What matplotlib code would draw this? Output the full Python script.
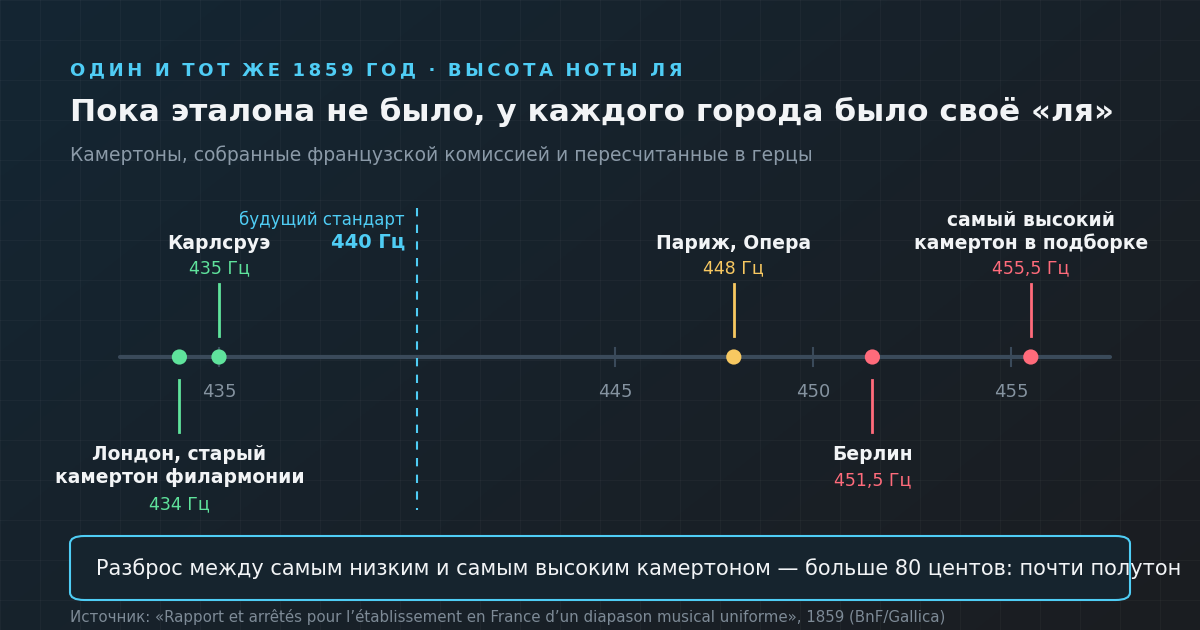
import matplotlib
matplotlib.use("Agg")
import matplotlib.pyplot as plt
import numpy as np
from matplotlib.patches import FancyBboxPatch

plt.rcParams['font.family'] = ['DejaVu Sans']

cities = ["Лондон, старый\nкамертон филармонии", "Карлсруэ", "Париж, Опера", "Берлин",
          "самый высокий\nкамертон в подборке"]
freqs = [434, 435, 448, 451.5, 455.5]
freq_labels = ["434 Гц", "435 Гц", "448 Гц", "451,5 Гц", "455,5 Гц"]
above = [False, True, True, False, True]
colors = ["#5fe39c", "#5fe39c", "#f7c861", "#ff6b7b", "#ff6b7b"]
ticks = [435, 445, 450, 455]
standard = 440

fig = plt.figure(figsize=(12, 6.3), dpi=100)
bg = fig.add_axes([0, 0, 1, 1])
grad = np.linspace(0, 1, 256)
X, Y = np.meshgrid(grad, grad)
c1 = np.array([0x14, 0x26, 0x33]) / 255
c2 = np.array([0x1b, 0x1d, 0x21]) / 255
t = np.clip((X * 0.6 + Y * 0.4), 0, 1)[..., None]
img = c1 * (1 - t) + c2 * t
bg.imshow(img, extent=[0, 1200, 630, 0], aspect='auto')
for gx in range(0, 1200, 40):
    bg.axvline(gx, color="#ffffff", alpha=0.03, lw=0.8)
for gy in range(0, 630, 40):
    bg.axhline(gy, color="#ffffff", alpha=0.03, lw=0.8)
bg.set_xlim(0, 1200); bg.set_ylim(630, 0); bg.axis('off')

ax = fig.add_axes([0, 0, 1, 1])
ax.patch.set_alpha(0)
s = 39.6
x0 = 435 - 219 / s
ax.set_xlim(x0, x0 + 1200 / s)
ax.set_ylim(630, 0)
ax.axis('off')
px = lambda p: x0 + p / s

kicker = "ОДИН И ТОТ ЖЕ 1859 ГОД · ВЫСОТА НОТЫ ЛЯ"
ax.text(px(70), 70, "\u2009".join(kicker).replace("\u2009 \u2009", "  "), color="#4fcdf5",
        fontsize=13, fontweight='bold', va='center', ha='left')
ax.text(px(70), 112, "Пока эталона не было, у каждого города было своё «ля»", color="#f2f4f6",
        fontsize=22.4, fontweight='bold', va='center', ha='left')
ax.text(px(70), 155, "Камертоны, собранные французской комиссией и пересчитанные в герцы",
        color="#8b9aa8", fontsize=13.5, va='center', ha='left')

ax.plot([px(120), px(1110)], [357, 357], color="#3a4a5a", lw=3, solid_capstyle='round', zorder=2)
for tk in ticks:
    ax.plot([tk, tk], [348, 366], color="#3a4a5a", lw=1.5, zorder=2)
    ax.text(tk, 392, str(tk), color="#8593a0", fontsize=13, ha='center', va='center')

ax.plot([standard, standard], [208, 510], color="#4fcdf5", lw=1.5, ls=(0, (4, 4)), zorder=2)
ax.text(standard - 12 / s, 220, "будущий стандарт", color="#4fcdf5", fontsize=12, ha='right', va='center')
ax.text(standard - 12 / s, 242, "440 Гц", color="#4fcdf5", fontsize=14, fontweight='bold', ha='right', va='center')

for name, f, fl, up, c in zip(cities, freqs, freq_labels, above, colors):
    ax.scatter([f], [357], s=120, color=c, zorder=4, edgecolors='none')
    if up:
        ax.plot([f, f], [284, 336], color=c, lw=2, zorder=3)
        ax.text(f, 268, fl, color=c, fontsize=12.5, ha='center', va='center')
        ax.text(f, 253, name, color="#f2f4f6", fontsize=13.5, fontweight='bold', ha='center',
                va='bottom', linespacing=1.25)
    else:
        ax.plot([f, f], [380, 432], color=c, lw=2, zorder=3)
        ax.text(f, 445, name, color="#f2f4f6", fontsize=13.5, fontweight='bold', ha='center',
                va='top', linespacing=1.25)
        nl = name.count("\n")
        ax.text(f, 480 + 24 * nl, fl, color=c, fontsize=12.5, ha='center', va='center')

box = FancyBboxPatch((70 / 1200, (630 - 600) / 630), 1060 / 1200, 64 / 630,
                     boxstyle="round,pad=0,rounding_size=0.012", transform=fig.transFigure,
                     facecolor="#16242e", edgecolor="#4fcdf5", lw=1.5, zorder=1)
fig.patches.append(box)
fig.text(96 / 1200, 1 - 569 / 630, "Разброс между самым низким и самым высоким камертоном — больше 80 центов: почти полутон",
         color="#f2f4f6", fontsize=15, va='center', ha='left')
fig.text(70 / 1200, 1 - 617 / 630,
         "Источник: «Rapport et arrêtés pour l’établissement en France d’un diapason musical uniforme», 1859 (BnF/Gallica)",
         color="#7d8a96", fontsize=10.8, va='center', ha='left')

fig.savefig("out.png", dpi=100)
